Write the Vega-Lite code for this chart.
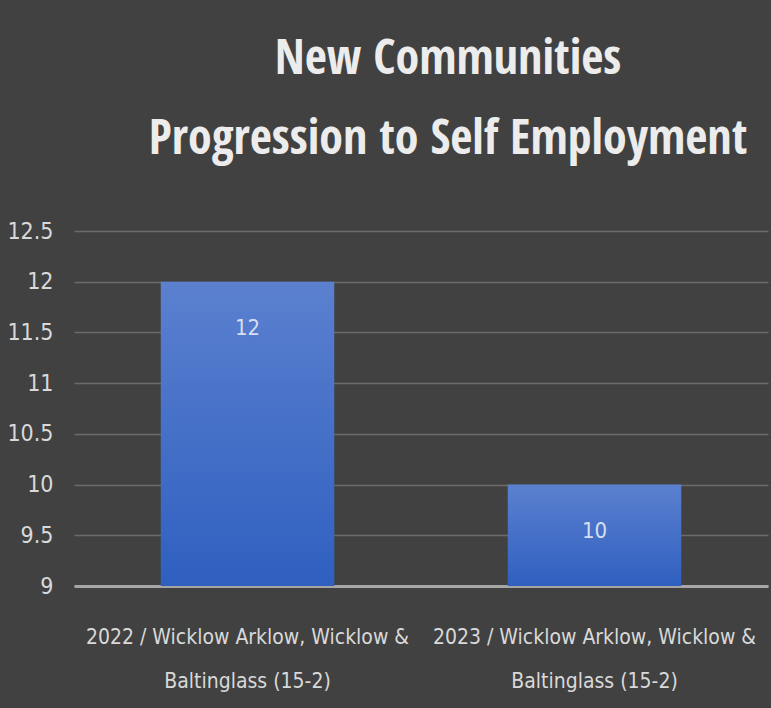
{
  "$schema": "https://vega.github.io/schema/vega-lite/v6.json",
  "autosize": "none",
  "width": 694,
  "height": 355,
  "padding": {"left": 74, "top": 231, "right": 3, "bottom": 122},
  "background": "#414141",
  "title": {
    "text": ["New Communities", "Progression to Self Employment"],
    "anchor": "middle",
    "dx": 27,
    "offset": 56,
    "font": "Open Sans Condensed",
    "fontSize": 48,
    "fontWeight": "bold",
    "lineHeight": 80,
    "color": "#ececec"
  },
  "data": {
    "values": [
      {"category": "2022 / Wicklow Arklow, Wicklow & Baltinglass (15-2)", "count": 12},
      {"category": "2023 / Wicklow Arklow, Wicklow & Baltinglass (15-2)", "count": 10}
    ]
  },
  "layer": [
    {
      "mark": {
        "type": "bar",
        "color": {
          "gradient": "linear",
          "x1": 0, "y1": 0, "x2": 0, "y2": 1,
          "stops": [
            {"offset": 0, "color": "#5b80cf"},
            {"offset": 1, "color": "#2f60c0"}
          ]
        }
      },
      "encoding": {
        "x": {
          "field": "category",
          "type": "nominal",
          "sort": null,
          "scale": {"paddingInner": 0.5, "paddingOuter": 0.25},
          "axis": {
            "title": null,
            "labelAngle": 0,
            "labelExpr": "[slice(datum.label, 0, 32), slice(datum.label, 33)]",
            "labelFont": "DejaVu Sans Condensed",
            "labelFontSize": 21,
            "labelColor": "#d9d9d9",
            "labelLineHeight": 44,
            "labelPadding": 40,
            "labelLimit": 400,
            "ticks": false,
            "domainColor": "#a6a6a6",
            "domainWidth": 3
          }
        },
        "y": {
          "field": "count",
          "type": "quantitative",
          "scale": {"domain": [9, 12.5], "zero": false, "nice": false},
          "axis": {
            "title": null,
            "values": [9, 9.5, 10, 10.5, 11, 11.5, 12, 12.5],
            "format": ".1~f",
            "labelFont": "DejaVu Sans Condensed",
            "labelFontSize": 23,
            "labelColor": "#d9d9d9",
            "labelPadding": 21,
            "ticks": false,
            "domain": false,
            "gridColor": "#6b6b6b",
            "gridWidth": 1.5
          }
        },
        "y2": {"datum": 9}
      }
    },
    {
      "mark": {
        "type": "text",
        "dy": 46,
        "baseline": "middle",
        "font": "DejaVu Sans Condensed",
        "fontSize": 22,
        "color": "#d6deef"
      },
      "encoding": {
        "x": {"field": "category", "type": "nominal", "sort": null},
        "y": {"field": "count", "type": "quantitative"},
        "text": {"field": "count", "type": "quantitative"}
      }
    }
  ],
  "config": {
    "view": {"stroke": null}
  }
}
